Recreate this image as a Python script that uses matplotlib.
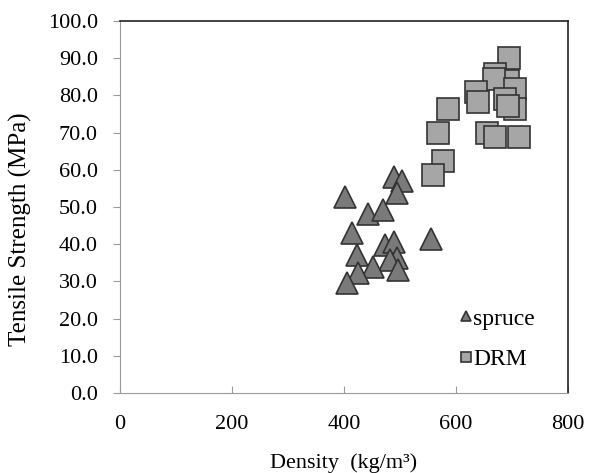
import numpy as np
from matplotlib import pyplot as plt

# spruce samples
spruce_density = [402, 443, 470, 414, 555, 473, 489, 423, 494, 482, 452, 425, 496, 405, 489, 503, 494]
spruce_strength = [52.8, 48.0, 49.3, 43.1, 41.5, 39.9, 40.7, 37.2, 36.4, 35.8, 34.0, 32.3, 33.2, 29.6, 58.0, 56.9, 53.9]

# DRM samples
drm_density = [695, 670, 693, 668, 705, 636, 640, 688, 705, 693, 586, 568, 655, 670, 712, 577, 559]
drm_strength = [90.0, 85.7, 83.8, 84.4, 81.7, 80.9, 78.2, 79.0, 76.3, 77.1, 76.3, 70.0, 70.0, 68.7, 68.7, 62.5, 58.5]

x_ticks = [0, 200, 400, 600, 800]
y_ticks = np.arange(0, 101, 10)

plt.rcParams['font.family'] = ['Liberation Serif', 'DejaVu Serif']
fig = plt.figure(figsize=(5.9, 4.73), dpi=100)
ax = fig.add_axes([0.2034, 0.169, 0.7593, 0.7866])

ax.plot(spruce_density, spruce_strength, '^', ms=16.5, mfc='#7a7a7a', mec='#333333',
        mew=1.2, label='spruce')
ax.plot(drm_density, drm_strength, 's', ms=16.5, mfc='#a6a6a6', mec='#333333',
        mew=1.2, label='DRM')

ax.set_xlim(0, 800)
ax.set_ylim(0, 100)
ax.set_xticks(x_ticks)
ax.set_yticks(y_ticks)
ax.set_yticklabels(['%.1f' % v for v in y_ticks])

for s in ['left', 'bottom']:
    ax.spines[s].set_color('#9a9a9a')
for s in ['right', 'top']:
    ax.spines[s].set_color('#222222')
    ax.spines[s].set_linewidth(1.2)

ax.tick_params(axis='x', direction='in', length=5, color='#9a9a9a', pad=16, labelsize=16)
ax.tick_params(axis='y', direction='out', length=5, color='#9a9a9a', pad=11, labelsize=16)

ax.set_xlabel('Density  (kg/m³)', fontsize=16, labelpad=14)
ax.set_ylabel('Tensile Strength (MPa)', fontsize=18)
ax.yaxis.set_label_coords(-0.196, 0.44)

ax.legend(loc='upper left', bbox_to_anchor=(0.757, 0.228), frameon=False, markerscale=0.44,
          fontsize=17, borderaxespad=0, borderpad=0, handletextpad=0.05,
          labelspacing=0.8, handlelength=0.55)

plt.savefig('out.png', dpi=100)
